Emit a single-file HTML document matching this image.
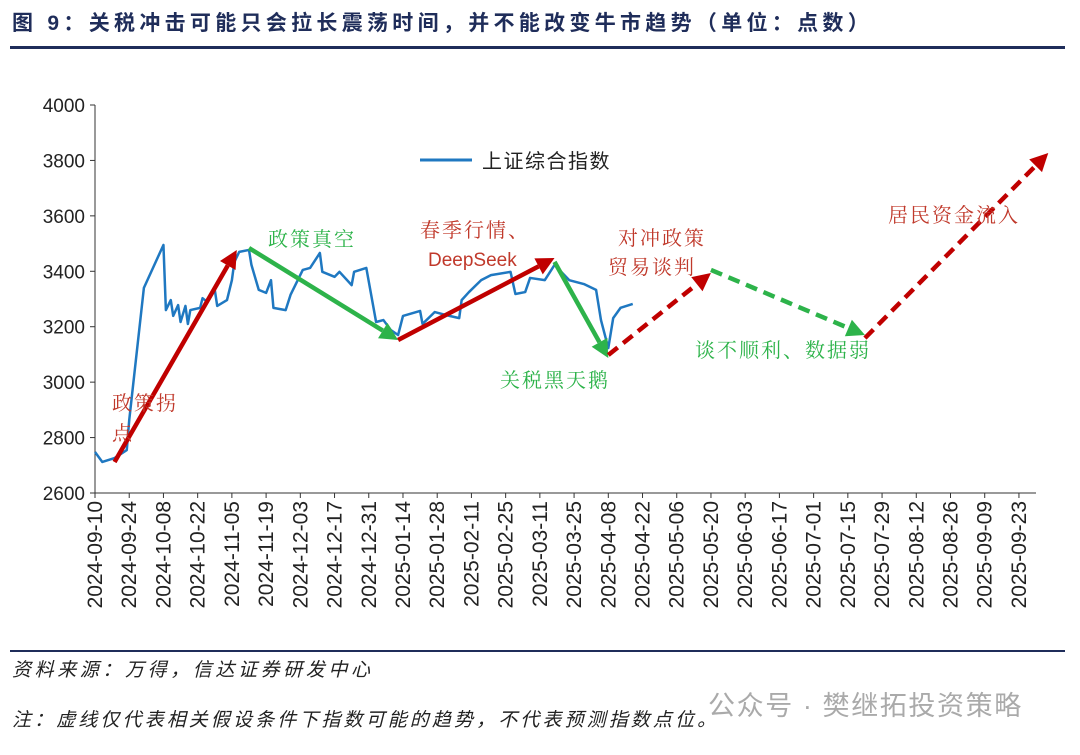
<!DOCTYPE html>
<html><head><meta charset="utf-8">
<style>
body{margin:0;background:#fff;width:1080px;height:750px;overflow:hidden;font-family:"Liberation Sans","Noto Sans CJK SC",sans-serif;}
svg text{font-family:"Liberation Sans","Noto Sans CJK SC",sans-serif;}
svg text.serif{font-family:"Liberation Serif","Noto Serif CJK SC",serif;}
</style></head><body>
<svg width="1080" height="750">
<text x="12" y="30" font-size="21" font-weight="bold" letter-spacing="4.3" fill="#1f2d5a">图 9：关税冲击可能只会拉长震荡时间，并不能改变牛市趋势（单位：点数）</text>
<rect x="10" y="46" width="1055" height="3" fill="#1f2d5a"/>
<g id="axes"></g>
<g id="series"></g>
<g id="arrows"></g>
<line x1="420" y1="160" x2="472" y2="160" stroke="#1f78c1" stroke-width="3"/>
<text x="482" y="168" font-size="20" letter-spacing="1.5" fill="#222">上证综合指数</text>
<g font-size="20" letter-spacing="2">
<text class="serif" x="112" y="410" fill="#c0392b">政策拐</text>
<text class="serif" x="112" y="440" fill="#c0392b">点</text>
<text class="serif" x="268" y="246" fill="#2db34a">政策真空</text>
<text class="serif" x="420" y="237" fill="#c0392b">春季行情、</text>
<text class="serif" x="618" y="245" fill="#c0392b">对冲政策</text>
<text class="serif" x="608" y="274" fill="#c0392b">贸易谈判</text>
<text class="serif" x="500" y="387" fill="#2db34a">关税黑天鹅</text>
<text class="serif" x="695" y="357" fill="#2db34a">谈不顺利、数据弱</text>
<text class="serif" x="888" y="222" fill="#c0392b">居民资金流入</text>
</g>
<text x="428" y="266" font-size="19" fill="#c0392b">DeepSeek</text>
<rect x="10" y="650" width="1055" height="2" fill="#1f2d5a"/>
<text x="12" y="676" font-size="19" letter-spacing="3.6" font-style="italic" fill="#222">资料来源：万得，信达证券研发中心</text>
<text x="708" y="715" font-size="27" letter-spacing="1.6" fill="#aaa">公众号 · 樊继拓投资策略</text>
<text x="12" y="726" font-size="19" letter-spacing="3.1" font-style="italic" fill="#222">注：虚线仅代表相关假设条件下指数可能的趋势，不代表预测指数点位。</text>
</svg>
<script>
const days=[0,3,8,13,14,20,28,29,31,32,34,35,37,38,39,43,44,46,49,50,54,56,57,59,63,64,67,70,72,73,78,80,85,88,92,93,98,100,105,106,111,115,118,121,124,126,133,134,139,145,149,150,153,158,162,170,172,176,178,184,188,194,200,205,207,210,212,215,220];
const values=[2748,2712,2726,2755,2863,3340,3495,3260,3296,3239,3278,3217,3275,3210,3260,3268,3303,3289,3333,3275,3296,3368,3433,3470,3477,3423,3333,3322,3368,3268,3260,3315,3405,3412,3466,3398,3380,3398,3350,3398,3412,3217,3224,3188,3170,3239,3257,3210,3253,3239,3231,3296,3325,3368,3386,3398,3318,3325,3376,3368,3423,3368,3354,3333,3224,3123,3231,3268,3282];
const yTicks=[2600,2800,3000,3200,3400,3600,3800,4000];
const xTickLabels=["2024-09-10","2024-09-24","2024-10-08","2024-10-22","2024-11-05","2024-11-19","2024-12-03","2024-12-17","2024-12-31","2025-01-14","2025-01-28","2025-02-11","2025-02-25","2025-03-11","2025-03-25","2025-04-08","2025-04-22","2025-05-06","2025-05-20","2025-06-03","2025-06-17","2025-07-01","2025-07-15","2025-07-29","2025-08-12","2025-08-26","2025-09-09","2025-09-23"];
const arrowStart=[[8,2712],[63,3484],[124,3152],[188,3434],[210,3098],[252,3405],[315,3159]];
const arrowEnd=[[58,3477],[124,3152],[188,3448],[210,3087],[252,3394],[315,3170],[390,3827]];
const arrowColor=["#c00000","#2db34a","#c00000","#2db34a","#c00000","#2db34a","#c00000"];
const arrowDashed=[false,false,false,false,true,true,true];
const X0=95,X1=1036,Y0=493,Y1=105;
const xs=d=>X0+d*(34.22/14);
const ys=v=>Y0-(v-2600)*(Y0-Y1)/1400;
const NS="http://www.w3.org/2000/svg";
function mk(t,a,p){const e=document.createElementNS(NS,t);for(const k in a)e.setAttribute(k,a[k]);p.appendChild(e);return e;}
const ax=document.getElementById('axes');
let e=mk('line',{x1:X0,y1:Y1,x2:X0,y2:Y0,stroke:'#333','stroke-width':1},ax);


e=mk('line',{x1:X0,y1:Y0,x2:X1,y2:Y0,stroke:'#333','stroke-width':1},ax);


yTicks.forEach(v=>{
 mk('line',{x1:X0-5,y1:ys(v),x2:X0,y2:ys(v),stroke:'#333'},ax);
 const t=mk('text',{x:X0-10,y:ys(v)+7,'text-anchor':'end','font-size':19,fill:'#222'},ax);t.textContent=v;
 
 
});
xTickLabels.forEach((l,i)=>{
 const x=xs(i*14);
 mk('line',{x1:x,y1:Y0,x2:x,y2:Y0+5,stroke:'#333'},ax);
 const t=mk('text',{x:0,y:0,'text-anchor':'end','font-size':21,fill:'#222',transform:`translate(${x+7},${Y0+8}) rotate(-90)`},ax);t.textContent=l;
 
 
});
const sg=document.getElementById('series');
const p=mk('polyline',{points:days.map((d,i)=>xs(d)+','+ys(values[i])).join(' '),fill:'none',stroke:'#1f78c1','stroke-width':2.5,'stroke-linejoin':'round'},sg);


const ag=document.getElementById('arrows');
arrowStart.forEach((s,i)=>{
 const x1=xs(s[0]),y1=ys(s[1]),x2=xs(arrowEnd[i][0]),y2=ys(arrowEnd[i][1]);
 const dx=x2-x1,dy=y2-y1,L=Math.hypot(dx,dy),ux=dx/L,uy=dy/L,h=18,w=9;
 const bx=x2-ux*h,by=y2-uy*h;
 const g=mk('g',{},ag);
 
 
 const a={x1:x1,y1:y1,x2:bx,y2:by,stroke:arrowColor[i],'stroke-width':4.5};
 if(arrowDashed[i])a['stroke-dasharray']='12,7';
 mk('line',a,g);
 mk('polygon',{points:`${x2},${y2} ${bx-uy*w},${by+ux*w} ${bx+uy*w},${by-ux*w}`,fill:arrowColor[i]},g);
});
</script>
</body></html>
